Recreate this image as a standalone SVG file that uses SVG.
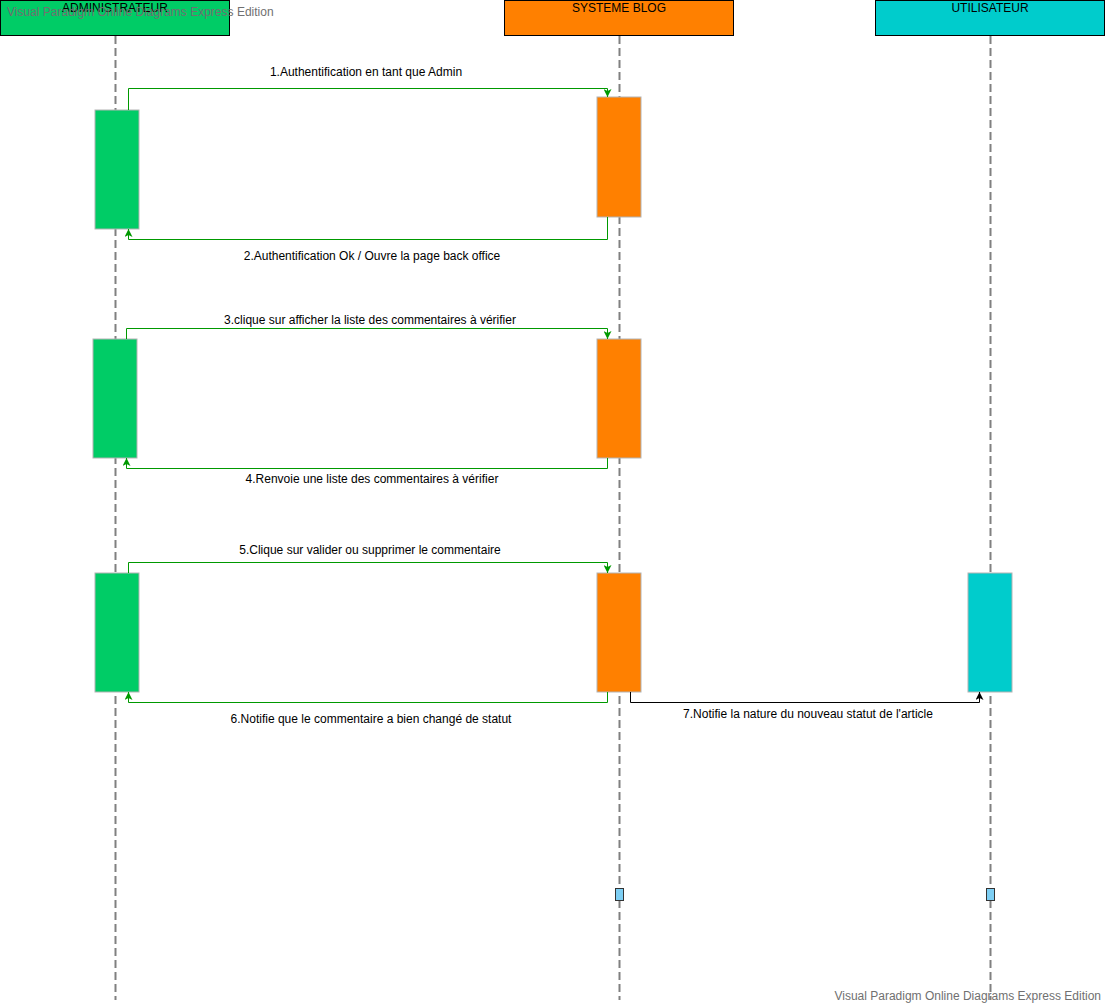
<svg xmlns="http://www.w3.org/2000/svg" width="1107" height="1006" viewBox="0 0 1107 1006">
  <style>
    text { font-family: "Liberation Sans", Arial, Helvetica, sans-serif; font-size: 12px; fill: #000; }
    .head { stroke: #000; stroke-width: 1; }
    .life { stroke: #808080; stroke-width: 2; stroke-dasharray: 8 4; fill: none; }
    .act { stroke: #b3b3b3; stroke-width: 1; }
    .msg { fill: none; stroke: #009900; stroke-width: 1; }
    .msgk { fill: none; stroke: #000; stroke-width: 1; }
    .wm { fill: #707070; font-size: 12px; }
    .lbl { text-anchor: middle; }
    .end { fill: #7ecff4; stroke: #333; stroke-width: 1; }
  </style>
  <defs>
    <marker id="arrG" viewBox="0 0 8 8" refX="8" refY="4" markerWidth="8" markerHeight="8" orient="auto" markerUnits="userSpaceOnUse">
      <path d="M0,0 L8,4 L0,8 L2,4 Z" fill="#009900"/>
    </marker>
    <marker id="arrK" viewBox="0 0 8 8" refX="8" refY="4" markerWidth="8" markerHeight="8" orient="auto" markerUnits="userSpaceOnUse">
      <path d="M0,0 L8,4 L0,8 L2,4 Z" fill="#000"/>
    </marker>
  </defs>

  <!-- lifelines -->
  <g id="lifelines">
    <line class="life" x1="115.5" y1="36" x2="115.5" y2="1000"/>
    <line class="life" x1="619.5" y1="36" x2="619.5" y2="1000"/>
    <line class="life" x1="990.5" y1="36" x2="990.5" y2="1000"/>
  </g>

  <!-- participants -->
  <g id="admin">
    <rect class="head" x="0.5" y="0.5" width="229" height="35" fill="#00cc66"/>
    <text x="115" y="12" text-anchor="middle">ADMINISTRATEUR</text>
  </g>
  <g id="systeme">
    <rect class="head" x="504.5" y="0.5" width="229" height="35" fill="#ff8000"/>
    <text x="619" y="12" text-anchor="middle">SYSTEME BLOG</text>
  </g>
  <g id="utilisateur">
    <rect class="head" x="875.5" y="0.5" width="229" height="35" fill="#00cccc"/>
    <text x="990" y="12" text-anchor="middle">UTILISATEUR</text>
  </g>

  <!-- activation bars -->
  <g id="act-admin-1"><rect class="act" x="95" y="110" width="44" height="119" fill="#00cc66"/></g>
  <g id="act-sys-1"><rect class="act" x="597" y="97" width="44" height="120" fill="#ff8000"/></g>
  <g id="act-admin-2"><rect class="act" x="93" y="339" width="44" height="119" fill="#00cc66"/></g>
  <g id="act-sys-2"><rect class="act" x="597" y="339" width="44" height="119" fill="#ff8000"/></g>
  <g id="act-admin-3"><rect class="act" x="95" y="573" width="44" height="119" fill="#00cc66"/></g>
  <g id="act-sys-3"><rect class="act" x="597" y="573" width="44" height="119" fill="#ff8000"/></g>
  <g id="act-user-1"><rect class="act" x="968" y="573" width="44" height="119" fill="#00cccc"/></g>

  <!-- lifeline end markers -->
  <g id="end-sys"><rect class="end" x="615.5" y="888.5" width="8" height="12"/></g>
  <g id="end-user"><rect class="end" x="986.5" y="888.5" width="8" height="12"/></g>

  <!-- messages -->
  <g id="connectors">
    <path class="msg" d="M128.5,110 V88.5 H607.5 V97" marker-end="url(#arrG)"/>
    <path class="msg" d="M607.5,217 V239.5 H128.5 V229" marker-end="url(#arrG)"/>
    <path class="msg" d="M126.5,339 V328.5 H607.5 V339" marker-end="url(#arrG)"/>
    <path class="msg" d="M607.5,458 V468.5 H126.5 V458" marker-end="url(#arrG)"/>
    <path class="msg" d="M128.5,573 V562.5 H607.5 V573" marker-end="url(#arrG)"/>
    <path class="msg" d="M607.5,692 V702.5 H128.5 V692" marker-end="url(#arrG)"/>
    <path class="msgk" d="M630.5,692 V702.5 H979.5 V692" marker-end="url(#arrK)"/>
  </g>

  <!-- message labels -->
  <g id="labels">
    <text class="lbl" x="366" y="76">1.Authentification en tant que Admin</text>
    <text class="lbl" x="372" y="260">2.Authentification Ok / Ouvre la page back office</text>
    <text class="lbl" x="370" y="324">3.clique sur afficher la liste des commentaires à vérifier</text>
    <text class="lbl" x="372" y="483">4.Renvoie une liste des commentaires à vérifier</text>
    <text class="lbl" x="370" y="554">5.Clique sur valider ou supprimer le commentaire</text>
    <text class="lbl" x="371" y="723">6.Notifie que le commentaire a bien changé de statut</text>
    <text class="lbl" x="808" y="718">7.Notifie la nature du nouveau statut de l'article</text>
  </g>

  <!-- watermarks -->
  <text class="wm" x="7" y="16">Visual Paradigm Online Diagrams Express Edition</text>
  <text class="wm" x="1101" y="1000" text-anchor="end">Visual Paradigm Online Diagrams Express Edition</text>
</svg>
